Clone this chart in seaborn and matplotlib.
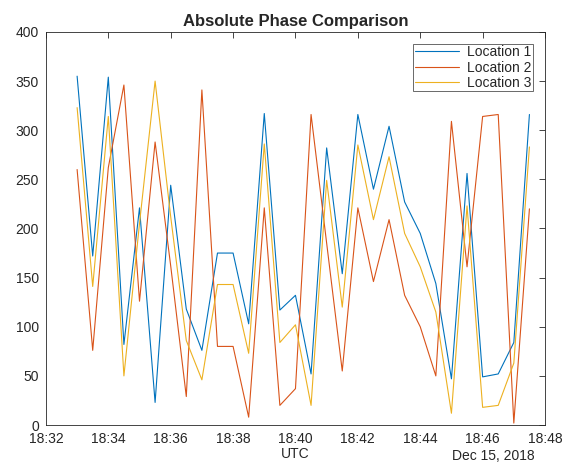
import matplotlib
matplotlib.use("Agg")
import matplotlib.pyplot as plt
import matplotlib.dates as mdates
import seaborn as sns
import pandas as pd

# half-minute samples, 18:33:00 .. 18:47:30 UTC, Dec 15 2018
times = pd.date_range("2018-12-15 18:33:00", periods=30, freq="30s")

loc1 = [355, 172, 354, 82, 221, 23, 244, 118, 76, 175,
        175, 103, 317, 117, 132, 52, 282, 154, 316, 240,
        304, 227, 195, 144, 47, 256, 49, 52, 84, 316]
loc2 = [260, 76, 262, 346, 126, 288, 162, 29, 341, 80,
        80, 8, 221, 20, 37, 316, 185, 55, 221, 146,
        209, 132, 100, 50, 309, 161, 314, 316, 2, 220]
loc3 = [323, 141, 314, 50, 205, 350, 212, 86, 46, 143,
        143, 73, 286, 84, 102, 20, 249, 120, 285, 209,
        273, 195, 161, 115, 12, 223, 18, 20, 63, 283]

labels = ["Location 1", "Location 2", "Location 3"]
colors = ["#0072BD", "#D95319", "#EDB120"]

df = pd.concat([
    pd.DataFrame({"time": times, "phase": vals, "location": lab})
    for vals, lab in zip([loc1, loc2, loc3], labels)
])

sns.set_style("white")
plt.rcParams["font.family"] = ["Liberation Sans", "DejaVu Sans"]

fig = plt.figure(figsize=(5.74, 4.63), dpi=100)
ax = fig.add_axes([0.080, 0.082, 0.8695, 0.849])

sns.lineplot(data=df, x="time", y="phase", hue="location", palette=colors,
             linewidth=0.8, ax=ax, estimator=None)

ax.set_xlim(pd.Timestamp("2018-12-15 18:32"), pd.Timestamp("2018-12-15 18:48"))
ax.set_ylim(0, 400)
ax.set_yticks(range(0, 401, 50))
ax.xaxis.set_major_locator(mdates.MinuteLocator(byminute=range(32, 49, 2)))
ax.xaxis.set_major_formatter(mdates.DateFormatter("%H:%M"))

ax.tick_params(direction="in", length=4, width=0.6, colors="#262626",
               labelsize=10, top=True, right=True, pad=5)
for s in ax.spines.values():
    s.set_color("#262626")
    s.set_linewidth(0.6)

ax.set_title("Absolute Phase Comparison", fontsize=12, fontweight="bold", pad=4)
ax.set_xlabel("UTC", fontsize=10, labelpad=1, color="#262626")
ax.set_ylabel("")
fig.text(535 / 574, 1 - 456 / 463, "Dec 15, 2018", ha="right", va="center",
         fontsize=10, color="#262626")

leg = ax.legend(loc="upper right", fontsize=10, frameon=True, fancybox=False,
                borderpad=0.1, labelspacing=0.1, handlelength=3.2,
                handletextpad=0.6, borderaxespad=0.85)
leg.get_frame().set_edgecolor("#262626")
leg.get_frame().set_linewidth(0.6)
leg.set_title(None)

fig.savefig("out.png", dpi=100)
